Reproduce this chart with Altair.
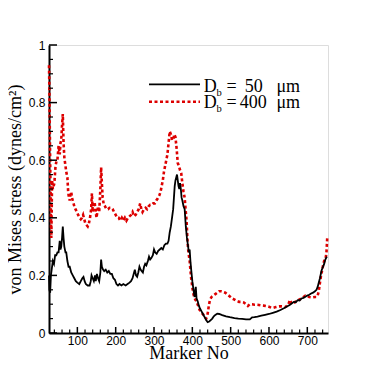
import altair as alt
import pandas as pd

# ---------------- data ----------------
marker_50 = [26, 27, 29, 31, 33, 36, 39, 42, 45, 48, 51, 54, 56, 58, 60, 62, 64, 66, 69, 71,
             74, 77, 80, 84, 88, 92, 96, 100, 105, 109, 113, 116, 119, 122, 127, 132, 135, 137, 140, 143,
             146, 148, 151, 154, 157, 160, 162, 164, 167, 170, 174, 178, 182, 186, 190, 194, 198, 202, 206, 210,
             215, 220, 226, 231, 236, 240, 244, 248, 250, 253, 256, 259, 262, 265, 268, 271, 274, 277, 280, 284,
             287, 290, 293, 297, 300, 303, 307, 311, 315, 319, 323, 327, 331, 335, 338, 341, 344, 347, 350, 352,
             354, 356, 358, 360, 362, 364, 366, 368, 370, 372, 374, 377, 380, 383, 386, 389, 391, 393, 395, 397,
             400, 402, 404, 406, 408, 409, 411, 414, 417, 420, 424, 428, 432, 436, 440, 444, 448, 452, 456, 460,
             465, 470, 478, 488, 498, 510, 520, 530, 540, 550, 556, 562, 570, 580, 590, 600, 610, 620, 630, 640,
             648, 654, 660, 665, 670, 675, 680, 685, 690, 695, 700, 705, 710, 715, 720, 724, 727, 730, 733, 736,
             738, 741, 744, 747, 749, 751]
stress_50 = [0.20, 0.15, 0.14, 0.20, 0.22, 0.25, 0.24, 0.27, 0.27, 0.28, 0.28, 0.32, 0.29, 0.30, 0.33, 0.37, 0.33, 0.30, 0.28, 0.28,
             0.25, 0.23, 0.23, 0.21, 0.20, 0.19, 0.18, 0.175, 0.17, 0.18, 0.19, 0.195, 0.18, 0.17, 0.165, 0.165, 0.18, 0.20, 0.19, 0.18,
             0.20, 0.18, 0.205, 0.19, 0.18, 0.21, 0.255, 0.23, 0.22, 0.215, 0.22, 0.21, 0.215, 0.205, 0.205, 0.19, 0.185, 0.17, 0.165, 0.17,
             0.165, 0.17, 0.165, 0.17, 0.175, 0.18, 0.19, 0.21, 0.22, 0.20, 0.195, 0.21, 0.23, 0.22, 0.215, 0.21, 0.23, 0.24, 0.235, 0.25,
             0.265, 0.255, 0.26, 0.27, 0.29, 0.28, 0.275, 0.285, 0.29, 0.295, 0.29, 0.305, 0.31, 0.31, 0.32, 0.35, 0.37, 0.40, 0.43, 0.47,
             0.51, 0.53, 0.54, 0.55, 0.53, 0.51, 0.50, 0.52, 0.50, 0.47, 0.46, 0.44, 0.43, 0.37, 0.33, 0.30, 0.28, 0.29, 0.25, 0.22,
             0.18, 0.16, 0.14, 0.125, 0.15, 0.16, 0.12, 0.11, 0.095, 0.085, 0.075, 0.065, 0.055, 0.045, 0.038, 0.04, 0.045, 0.05, 0.058, 0.063,
             0.067, 0.066, 0.062, 0.058, 0.055, 0.052, 0.050, 0.049, 0.047, 0.047, 0.054, 0.055, 0.057, 0.06, 0.063, 0.066, 0.07, 0.074, 0.08, 0.087,
             0.093, 0.097, 0.103, 0.108, 0.107, 0.114, 0.113, 0.12, 0.122, 0.126, 0.13, 0.133, 0.137, 0.14, 0.145, 0.15, 0.16, 0.175, 0.19, 0.21,
             0.22, 0.23, 0.24, 0.255, 0.26, 0.265]

marker_400 = [26, 27, 28, 29, 30, 31, 32, 33, 34, 36, 38, 40, 43, 46, 48, 51, 54, 56, 58, 60,
              62, 64, 66, 68, 71, 74, 76, 78, 80, 82, 84, 86, 88, 92, 95, 99, 102, 106, 109, 112,
              115, 118, 121, 124, 127, 130, 133, 136, 138, 140, 142, 145, 147, 150, 152, 154, 157, 160, 162, 164,
              166, 169, 172, 176, 180, 184, 188, 192, 196, 200, 204, 208, 212, 216, 220, 224, 228, 232, 236, 240,
              244, 248, 252, 256, 260, 264, 267, 270, 274, 278, 282, 286, 290, 294, 298, 302, 306, 310, 314, 317,
              320, 323, 326, 329, 332, 335, 338, 341, 344, 347, 350, 353, 356, 359, 362, 365, 368, 371, 374, 377,
              380, 383, 385, 387, 389, 391, 393, 395, 397, 400, 402, 405, 408, 411, 415, 419, 423, 428, 432, 436,
              439, 441, 443, 446, 450, 455, 460, 465, 470, 475, 480, 486, 492, 498, 504, 510, 516, 522, 528, 534,
              540, 545, 550, 556, 562, 570, 578, 586, 594, 600, 606, 612, 618, 624, 630, 636, 642, 648, 652, 655,
              658, 662, 666, 670, 675, 680, 685, 690, 695, 700, 705, 710, 715, 720, 724, 727, 730, 733, 736, 739,
              742, 745, 748, 750, 752]
stress_400 = [0.93, 0.85, 0.72, 0.60, 0.50, 0.40, 0.33, 0.42, 0.53, 0.50, 0.51, 0.52, 0.58, 0.60, 0.60, 0.65, 0.62, 0.66, 0.67, 0.72,
              0.76, 0.66, 0.61, 0.59, 0.56, 0.54, 0.49, 0.47, 0.46, 0.48, 0.49, 0.47, 0.46, 0.44, 0.43, 0.42, 0.41, 0.40, 0.395, 0.40,
              0.41, 0.395, 0.38, 0.375, 0.37, 0.38, 0.40, 0.43, 0.485, 0.42, 0.44, 0.455, 0.43, 0.40, 0.42, 0.44, 0.42, 0.50, 0.575, 0.52,
              0.47, 0.445, 0.44, 0.43, 0.43, 0.435, 0.435, 0.43, 0.42, 0.41, 0.40, 0.40, 0.39, 0.40, 0.39, 0.40, 0.39, 0.40, 0.405, 0.41,
              0.42, 0.405, 0.41, 0.42, 0.43, 0.45, 0.43, 0.42, 0.43, 0.435, 0.43, 0.44, 0.445, 0.445, 0.45, 0.45, 0.46, 0.468, 0.478, 0.49,
              0.51, 0.53, 0.56, 0.58, 0.60, 0.62, 0.66, 0.70, 0.69, 0.67, 0.67, 0.69, 0.68, 0.64, 0.59, 0.58, 0.565, 0.555, 0.52, 0.49,
              0.47, 0.42, 0.39, 0.33, 0.29, 0.27, 0.25, 0.22, 0.19, 0.16, 0.14, 0.125, 0.115, 0.11, 0.095, 0.08, 0.072, 0.065, 0.058, 0.05,
              0.06, 0.075, 0.095, 0.115, 0.125, 0.13, 0.135, 0.14, 0.145, 0.145, 0.143, 0.14, 0.133, 0.127, 0.12, 0.116, 0.111, 0.108, 0.108, 0.106,
              0.10, 0.094, 0.10, 0.10, 0.098, 0.098, 0.096, 0.095, 0.093, 0.091, 0.088, 0.088, 0.09, 0.092, 0.093, 0.092, 0.09, 0.095, 0.105, 0.115,
              0.105, 0.10, 0.105, 0.11, 0.113, 0.117, 0.12, 0.125, 0.13, 0.128, 0.125, 0.124, 0.124, 0.125, 0.125, 0.13, 0.145, 0.175, 0.20, 0.22,
              0.24, 0.255, 0.26, 0.28, 0.33]

x_major = [100, 200, 300, 400, 500, 600, 700]
x_minor = [40, 60, 80, 120, 140, 160, 180, 220, 240, 260, 280, 320, 340, 360, 380, 420, 440, 460, 480,
           520, 540, 560, 580, 620, 640, 660, 680, 720, 740]
y_major = [0, 0.2, 0.4, 0.6, 0.8, 1.0]
y_minor = [0.05, 0.1, 0.15, 0.25, 0.3, 0.35, 0.45, 0.5, 0.55, 0.65, 0.7, 0.75, 0.85, 0.9, 0.95]

x_domain = [26, 754]
y_domain = [0, 1]
x_title = "Marker No"
y_title = "von Mises stress (dynes/cm²)"
legend_sizes = ["50", "400"]

# ---------------- chart ----------------
W, H = 279, 288
RED = "#dd0000"
SERIF = "Liberation Serif"
SANS = "Liberation Sans"

xs = alt.Scale(domain=x_domain, nice=False, zero=False)
ys = alt.Scale(domain=y_domain, nice=False, zero=True)

df50 = pd.DataFrame({"m": marker_50, "s": stress_50})
df400 = pd.DataFrame({"m": marker_400, "s": stress_400})

x_axis = alt.Axis(values=x_major, grid=False, ticks=False, tickSize=0, labelFont=SANS, labelFontSize=12,
                  labelColor="black", labelPadding=2.5, domainColor="black", domainWidth=2,
                  title=x_title, titleFont=SERIF, titleFontSize=18, titleFontWeight="normal",
                  titleColor="black", titleY=25, titleBaseline="alphabetic", titleX=W / 2, titleAlign="center")
y_axis = alt.Axis(values=y_major, format="~g", grid=False, ticks=False, tickSize=0, labelFont=SANS,
                  labelFontSize=12, labelColor="black", labelPadding=4, domainColor="black", domainWidth=2,
                  title=y_title, titleFont=SERIF, titleFontSize=18, titleFontWeight="normal",
                  titleColor="black", titleAngle=270, titleX=-29, titleY=H / 2, titleAlign="center",
                  titleBaseline="alphabetic")

line50 = alt.Chart(df50).mark_line(color="black", strokeWidth=1.8).encode(
    x=alt.X("m:Q", scale=xs, axis=x_axis),
    y=alt.Y("s:Q", scale=ys, axis=y_axis),
    order="m:Q",
)
line400 = alt.Chart(df400).mark_line(color=RED, strokeWidth=2.6, strokeDash=[3, 2.5]).encode(
    x=alt.X("m:Q", scale=xs),
    y=alt.Y("s:Q", scale=ys),
    order="m:Q",
)

# inward tick marks
xmaj = alt.Chart(pd.DataFrame({"v": x_major})).mark_rule(color="black", strokeWidth=1.5).encode(
    x=alt.X("v:Q", scale=xs), y=alt.value(H), y2=alt.value(H - 6))
xmin = alt.Chart(pd.DataFrame({"v": x_minor})).mark_rule(color="black", strokeWidth=1.2).encode(
    x=alt.X("v:Q", scale=xs), y=alt.value(H), y2=alt.value(H - 3.5))
ymaj = alt.Chart(pd.DataFrame({"v": y_major})).mark_rule(color="black", strokeWidth=1.5).encode(
    y=alt.Y("v:Q", scale=ys), x=alt.value(0), x2=alt.value(8))
ymin = alt.Chart(pd.DataFrame({"v": y_minor})).mark_rule(color="black", strokeWidth=1.2).encode(
    y=alt.Y("v:Q", scale=ys), x=alt.value(0), x2=alt.value(4))

one = pd.DataFrame({"k": [0]})

def txt(s, x, y, size, align="left"):
    return alt.Chart(one).mark_text(font=SERIF, fontSize=size, color="black", align=align,
                                    baseline="alphabetic").encode(
        x=alt.value(x), y=alt.value(y), text=alt.value(s))

leg_black = alt.Chart(one).mark_rule(color="black", strokeWidth=1.8).encode(
    x=alt.value(100), x2=alt.value(151), y=alt.value(39.3))
leg_red = alt.Chart(one).mark_rule(color=RED, strokeWidth=2.6, strokeDash=[3, 2.5]).encode(
    x=alt.value(100), x2=alt.value(151), y=alt.value(56.7))

rows = [(46.7, 50.7, 195.7), (63.3, 67.4, 190.7)]
legend_texts = []
for (base, sub, numx), size in zip(rows, legend_sizes):
    legend_texts += [
        txt("D", 154.7, base, 18),
        txt("b", 167.5, sub, 10.5),
        txt("=", 177.4, base, 18),
        txt(size, numx, base, 18),
        txt("μm", 227.4, base, 18),
    ]

chart = alt.layer(line400, line50, xmin, xmaj, ymin, ymaj, leg_black, leg_red, *legend_texts).properties(
    width=W, height=H,
    autosize=alt.AutoSizeParams(type="none"),
    padding={"left": 41, "top": 37, "right": 20, "bottom": 40},
).configure_view(stroke=None).configure(background="white")

chart.save("out.html", embed_options={"renderer": "svg", "actions": False})
